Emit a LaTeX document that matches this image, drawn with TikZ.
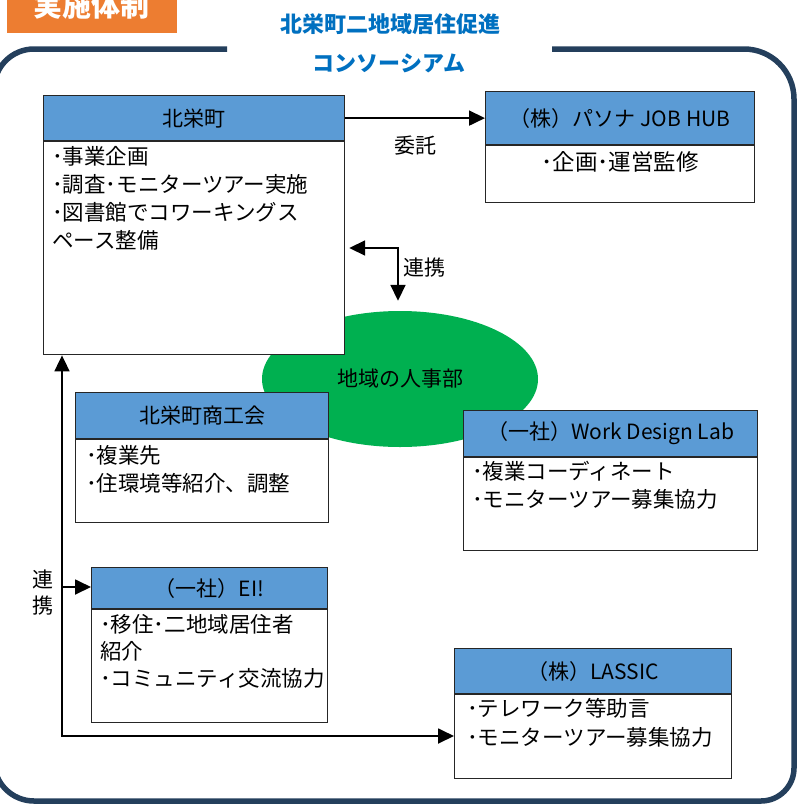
\documentclass[tikz,border=0pt]{standalone}
\usepackage{fontspec}
\setmainfont{Noto Sans CJK JP}
\usepackage{tikz}
\usetikzlibrary{arrows.meta, shapes.geometric, positioning}

\definecolor{headblue}{HTML}{5B9BD5}
\definecolor{framenavy}{HTML}{243F5C}
\definecolor{titleblue}{HTML}{0070C0}
\definecolor{tagorange}{HTML}{ED7D31}
\definecolor{hrgreen}{HTML}{00B050}

\newcommand{\hdfont}{\fontsize{21}{25}\selectfont}
\newcommand{\itfont}{\fontsize{21.5}{28}\selectfont}

\tikzset{
  head/.style={draw=black!85, fill=headblue, line width=1.2pt, inner sep=0pt, anchor=north west, font=\hdfont},
  body/.style={draw=black!85, fill=white, line width=1.2pt, inner sep=0pt, anchor=north west},
  item/.style={anchor=north west, align=left, inner sep=0pt, font=\itfont},
  link/.style={line width=1.8pt, ->},
  frame/.style={draw=framenavy, line width=5.5pt},
}

\begin{document}
\begin{tikzpicture}[x=1pt, y=-1pt, >={Triangle[length=16pt,width=15pt]}]
    \useasboundingbox (0,0) rectangle (798,811);
    \clip (0,0) rectangle (798,811);

    % Tag and title
    \fill[tagorange] (7,-5) rectangle (177,33);
    \node[font=\fontsize{29}{32}\selectfont\bfseries, text=white] (tag) at (91,6) {実施体制};
    \node[font=\fontsize{22}{26}\selectfont\bfseries, text=titleblue] (title) at (390,24) {北栄町二地域居住促進};
    \node[font=\fontsize{22}{26}\selectfont\bfseries, text=titleblue] (title2) at (389,63) {コンソーシアム};

    % Frame
    \draw[frame] (227,49) [rounded corners=40pt] -- (-6,49) -- (-6,801) [rounded corners=33pt] -- (794,801) [rounded corners=50pt] -- (794,49) -- (552,49);

    % Ellipse
    \node[ellipse, fill=hrgreen, minimum width=276, minimum height=136, inner sep=0pt, font=\hdfont] (jinji) at (400,379) {地域の人事部};

    % Kitasakae town
    \node[head, minimum width=301, minimum height=45] (town) at (43,95) {北栄町};
    \node[body, minimum width=301, minimum height=213] (townbody) at (town.south west) {};
    \node[item] (townitems) at (52,146) {･事業企画\\･調査･モニターツアー実施\\･図書館でコワーキングス\\ペース整備};

    % Pasona
    \node[head, minimum width=269, minimum height=53] (pasona) at (485,91) {（株）パソナ JOB HUB};
    \node[body, minimum width=269, minimum height=57] (pasonabody) at (pasona.south west) {};
    \node[font=\fontsize{22.5}{26}\selectfont, inner sep=0pt] (pasonaitems) at (620,162) {･企画･運営監修};

    % Chamber of commerce
    \node[head, minimum width=253, minimum height=46] (shoko) at (75,392) {北栄町商工会};
    \node[body, minimum width=253, minimum height=83] (shokobody) at (shoko.south west) {};
    \node[item] (shokoitems) at (86,445) {･複業先\\･住環境等紹介、調整};

    % Work Design Lab
    \node[head, minimum width=294, minimum height=46] (wdl) at (463,410) {（一社）Work Design Lab};
    \node[body, minimum width=294, minimum height=93] (wdlbody) at (wdl.south west) {};
    \node[item] (wdlitems) at (472,461) {･複業コーディネート\\･モニターツアー募集協力};

    % EI!
    \node[head, minimum width=236, minimum height=41] (ei) at (91,567) {（一社）EI!};
    \node[body, minimum width=236, minimum height=113] (eibody) at (ei.south west) {};
    \node[item, font=\fontsize{21.5}{27}\selectfont] (eiitems) at (100,614) {･移住･二地域居住者\\紹介\\･コミュニティ交流協力};

    % LASSIC
    \node[head, minimum width=277, minimum height=45] (lassic) at (454,648) {（株）LASSIC};
    \node[body, minimum width=277, minimum height=84] (lassicbody) at (lassic.south west) {};
    \node[item, font=\fontsize{21.5}{29}\selectfont] (lassicitems) at (467,698) {･テレワーク等助言\\･モニターツアー募集協力};

    % Arrows
    \draw[link] (town.east) -- (town.east -| pasona.west) node[midway, below=14pt, font=\hdfont] (itaku) {委託};

    \coordinate (rk) at (398,248);
    \draw[link, <->] ([xshift=4pt]townbody.east |- rk) -- (rk) -- ([yshift=10pt]rk |- jinji.north);
    \node[font=\hdfont, right=2pt] (renkei) at (398,268) {連携};

    \coordinate (bend) at (62,736);
    \coordinate (fork) at (62,587);
    \draw[link, <->] (townbody.south -| bend) -- (bend) -- (bend -| lassicbody.west);
    \draw[link] (fork) -- (fork -| ei.west);
    \node[font=\fontsize{21}{26}\selectfont, align=center, inner sep=0pt] (renkei2) at (43,593) {連\\携};
\end{tikzpicture}
\end{document}
